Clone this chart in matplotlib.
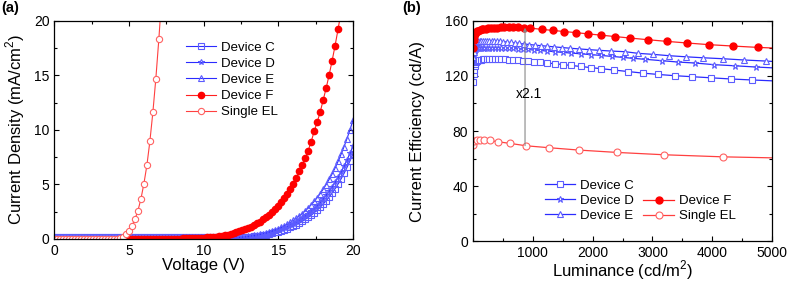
import numpy as np
import matplotlib
matplotlib.use("Agg")
import matplotlib.pyplot as plt
from matplotlib.ticker import MultipleLocator, FixedLocator

plt.rcParams.update({
    "font.family": ["Liberation Sans", "DejaVu Sans"],
    "mathtext.fontset": "custom",
    "mathtext.rm": "Liberation Sans",
    "axes.linewidth": 0.9,
    "xtick.direction": "in",
    "ytick.direction": "in",
    "xtick.major.size": 3.5,
    "ytick.major.size": 3.5,
    "xtick.minor.size": 2.0,
    "ytick.minor.size": 2.0,
    "xtick.labelsize": 10,
    "ytick.labelsize": 10,
})

# ── (a) J-V data ─────────────────────────────────────────────
# voltage sweep step 0.2 V
V_blue = np.round(np.arange(0, 20.01, 0.2), 1)
J_C = [0.15] * 63 + [0.16, 0.17, 0.19, 0.21, 0.24, 0.27, 0.31, 0.36,
                     0.41, 0.47, 0.53, 0.60, 0.68, 0.77, 0.86, 0.96, 1.07, 1.19,
                     1.32, 1.46, 1.62, 1.79, 1.98, 2.18, 2.40, 2.64, 2.90, 3.19,
                     3.50, 3.84, 4.20, 4.60, 5.03, 5.50, 6.00, 6.55, 7.15, 7.80]
J_D = [0.15] * 63 + [0.17, 0.19, 0.21, 0.24, 0.27, 0.31, 0.36, 0.41,
                     0.47, 0.54, 0.61, 0.69, 0.78, 0.88, 0.99, 1.11, 1.24, 1.38,
                     1.54, 1.71, 1.89, 2.09, 2.31, 2.54, 2.79, 3.06, 3.35, 3.67,
                     4.01, 4.38, 4.78, 5.20, 5.65, 6.15, 6.68, 7.25, 7.85, 8.50]
J_E = [0.15] * 63 + [0.20, 0.22, 0.25, 0.29, 0.33, 0.38, 0.44, 0.50,
                     0.57, 0.65, 0.74, 0.84, 0.95, 1.07, 1.21, 1.36, 1.52, 1.70,
                     1.89, 2.10, 2.33, 2.57, 2.84, 3.13, 3.44, 3.78, 4.15, 4.55,
                     4.98, 5.45, 5.95, 6.50, 7.10, 7.75, 8.45, 9.20, 10.0, 10.9]

V_F = np.round(np.arange(4.6, 19.21, 0.2), 1)
J_F = [0.03] * 18 + [0.04, 0.045, 0.05, 0.06, 0.065, 0.075, 0.085, 0.095, 0.11,
                     0.12, 0.14, 0.16, 0.19, 0.22, 0.26, 0.30, 0.35, 0.40, 0.46,
                     0.53, 0.60, 0.69, 0.78, 0.88, 1.00, 1.13, 1.27, 1.43, 1.60,
                     1.79, 2.00, 2.23, 2.48, 2.75, 3.05, 3.40, 3.75, 4.10, 4.60,
                     5.00, 5.60, 6.20, 6.80, 7.40, 8.10, 8.90, 9.86, 10.7, 11.6,
                     12.7, 13.8, 15.0, 16.3, 17.7, 19.2, 20.8]

V_EL = np.round(np.arange(0, 7.21, 0.2), 1)
J_EL = [0.02] * 21 + [0.04, 0.09, 0.20, 0.43, 0.76, 1.22, 1.80, 2.60, 3.66,
                      5.07, 6.75, 8.95, 11.6, 14.7, 18.3, 22.3]

# ── (b) CE-L data ────────────────────────────────────────────
L_C = [5, 10, 17, 26, 37, 50, 66, 85, 107, 132, 160, 192, 228, 268, 312, 360,
       412, 470, 532, 600, 672, 750, 834, 924, 1020, 1125, 1240, 1365, 1500,
       1645, 1800, 1965, 2140, 2360, 2596, 2837, 3097, 3376, 3654, 3971, 4322,
       4672, 5100]
CE_C = [115.5, 121.0, 124.5, 127.0, 128.8, 130.0, 130.8, 131.3, 131.6, 131.8,
        132.0, 132.1, 132.2, 132.2, 132.2, 132.2, 132.1, 132.0, 131.9, 131.7,
        131.5, 131.2, 130.9, 130.5, 130.2, 129.8, 129.3, 128.8, 128.2, 127.5,
        126.8, 126.0, 125.2, 124.2, 123.1, 122.0, 121.0, 120.1, 119.4, 118.6,
        117.7, 117.0, 116.2]

L_D = [5, 10, 17, 26, 37, 50, 66, 85, 107, 132, 160, 192, 228, 268, 312, 360,
       412, 470, 532, 600, 672, 750, 834, 924, 1020, 1125, 1240, 1365, 1500,
       1645, 1800, 1965, 2140, 2320, 2503, 2670, 2875, 3154, 3431, 3709, 4031,
       4377, 4727, 5100]
CE_D = [133.0, 135.5, 137.5, 138.6, 139.3, 139.8, 140.1, 140.3, 140.4, 140.5,
        140.5, 140.5, 140.5, 140.5, 140.5, 140.5, 140.5, 140.4, 140.3, 140.1,
        139.9, 139.7, 139.4, 139.1, 138.8, 138.4, 138.0, 137.5, 137.0, 136.5,
        136.0, 135.4, 134.8, 134.1, 133.4, 132.7, 132.0, 131.0, 130.0, 129.3,
        128.1, 127.3, 126.4, 125.6]

L_E = [5, 10, 18, 28, 40, 55, 72, 92, 115, 140, 168, 200, 235, 272, 312, 355,
       400, 450, 505, 565, 630, 700, 775, 855, 940, 1030, 1130, 1240, 1360,
       1490, 1630, 1780, 1940, 2110, 2300, 2541, 2764, 3003, 3281, 3560, 3848,
       4182, 4527, 4906, 5150]
CE_E = [134.0, 137.0, 140.0, 142.0, 143.3, 144.1, 144.6, 145.0, 145.2, 145.4,
        145.5, 145.5, 145.5, 145.5, 145.4, 145.3, 145.2, 145.0, 144.8, 144.5,
        144.2, 143.9, 143.5, 143.1, 142.7, 142.3, 141.9, 141.5, 141.0, 140.5,
        140.0, 139.5, 139.0, 138.5, 138.0, 137.5, 136.3, 135.6, 134.6, 133.8,
        133.1, 132.4, 131.5, 130.7, 130.1]

L_F = [5, 12, 22, 35, 50, 68, 90, 115, 143, 175, 210, 250, 295, 345, 400, 460,
       525, 595, 670, 750, 850, 956, 1150, 1340, 1530, 1725, 1925, 2140, 2370,
       2625, 2920, 3237, 3581, 3948, 4345, 4771, 5230]
CE_F = [140.0, 146.0, 149.0, 150.5, 151.5, 152.2, 152.8, 153.3, 153.7, 154.0,
        154.3, 154.5, 154.7, 154.9, 155.0, 155.1, 155.2, 155.3, 155.3, 155.2,
        155.0, 154.6, 153.7, 152.9, 152.1, 151.3, 150.4, 149.5, 148.5, 147.4,
        146.2, 145.0, 143.8, 142.6, 141.6, 140.6, 139.8]

L_EL = [3, 25, 67, 122, 189, 277, 417, 611, 889, 1273, 1769, 2403, 3192, 4172, 5300]
CE_EL = [69.8, 72.5, 73.2, 73.6, 73.7, 73.2, 72.2, 71.1, 69.3, 67.9, 66.2,
         64.5, 62.8, 61.3, 60.3]

ARROW_L = 870
RATIO_TXT = "x2.1"

BLUE_LINE, BLUE_MK = "#2b2bff", "#5c5cff"
RED_LINE, RED_MK = "#ff2020", "#ff0000"
EL_LINE, EL_MK = "#ff4040", "#ff6262"

fig = plt.figure(figsize=(7.87, 2.83), dpi=100)
ax_a = fig.add_axes([0.069, 0.1555, 0.3795, 0.7715])
ax_b = fig.add_axes([0.601, 0.147, 0.380, 0.780])

# ── (a) ──────────────────────────────────────────────────────
ms_a = 4
kw_blue = dict(color=BLUE_LINE, lw=0.8, mfc="none", mec=BLUE_MK, mew=0.8, ms=ms_a)
ax_a.plot(V_blue, J_C, marker="s", label="Device C", **kw_blue)
ax_a.plot(V_blue, J_D, marker="*", label="Device D", **kw_blue)
ax_a.plot(V_blue, J_E, marker="^", label="Device E", **kw_blue)
ax_a.plot(V_F, J_F, marker="o", color=RED_LINE, lw=0.8, mfc=RED_MK, mec=RED_MK,
          ms=ms_a + 0.5, label="Device F")
ax_a.plot(V_EL, J_EL, marker="o", color=EL_LINE, lw=0.8, mfc="white", mec=EL_MK,
          mew=0.8, ms=ms_a + 0.5, label="Single EL")

ax_a.set_xlim(0, 20)
ax_a.set_ylim(0, 20)
ax_a.xaxis.set_major_locator(MultipleLocator(5))
ax_a.xaxis.set_minor_locator(MultipleLocator(2.5))
ax_a.yaxis.set_major_locator(MultipleLocator(5))
ax_a.yaxis.set_minor_locator(MultipleLocator(2.5))
ax_a.set_xlabel("Voltage (V)", fontsize=12, labelpad=0)
ax_a.set_ylabel("Current Density (mA/cm$^{\\mathregular{2}}$)", fontsize=12, labelpad=5)
ax_a.legend(loc="upper left", bbox_to_anchor=(0.44, 0.905), frameon=False,
            fontsize=9.5, borderpad=0, borderaxespad=0, labelspacing=0.3,
            handlelength=2.3, handletextpad=0.4, markerscale=1.0)

# ── (b) ──────────────────────────────────────────────────────
ms_b = 4.5
kw_blue_b = dict(color=BLUE_LINE, lw=0.9, mfc="white", mec=BLUE_MK, mew=0.8, ms=ms_b)
lC, = ax_b.plot(L_C, CE_C, marker="s", label="Device C", **kw_blue_b)
lD, = ax_b.plot(L_D, CE_D, marker="*", label="Device D", **kw_blue_b)
lE, = ax_b.plot(L_E, CE_E, marker="^", label="Device E", **kw_blue_b)
lF, = ax_b.plot(L_F, CE_F, marker="o", color=RED_LINE, lw=0.9, mfc=RED_MK,
                mec=RED_MK, ms=ms_b + 0.5, label="Device F")
lEL, = ax_b.plot(L_EL, CE_EL, marker="o", color=EL_LINE, lw=0.9, mfc="white",
                 mec=EL_MK, mew=0.8, ms=ms_b + 0.5, label="Single EL")

y_lo = np.interp(ARROW_L, L_EL, CE_EL)
y_hi = np.interp(ARROW_L, L_F, CE_F)
ax_b.annotate("", xy=(ARROW_L, y_hi), xytext=(ARROW_L, y_lo),
              arrowprops=dict(arrowstyle="-|>", color="#888888", lw=0.8,
                              mutation_scale=5, shrinkA=0, shrinkB=0))
ax_b.text(ARROW_L + 60, (y_lo + y_hi) / 2 - 5, RATIO_TXT, fontsize=10,
          ha="center", va="center")

ax_b.set_xlim(0, 5000)
ax_b.set_ylim(0, 160)
ax_b.xaxis.set_major_locator(FixedLocator([1000, 2000, 3000, 4000, 5000]))
ax_b.xaxis.set_minor_locator(MultipleLocator(500))
ax_b.yaxis.set_major_locator(MultipleLocator(40))
ax_b.yaxis.set_minor_locator(MultipleLocator(20))
ax_b.set_xlabel("Luminance (cd/m$^{\\mathregular{2}}$)", fontsize=12, labelpad=-1)
ax_b.set_ylabel("Current Efficiency (cd/A)", fontsize=12, labelpad=14)

leg1 = ax_b.legend(handles=[lC, lD, lE], loc="upper left", bbox_to_anchor=(0.24, 0.28),
                   frameon=False, fontsize=9.5, borderpad=0, borderaxespad=0,
                   labelspacing=0.22, handlelength=2.3, handletextpad=0.4)
ax_b.add_artist(leg1)
ax_b.legend(handles=[lF, lEL], loc="upper left", bbox_to_anchor=(0.57, 0.21),
            frameon=False, fontsize=9.5, borderpad=0, borderaxespad=0,
            labelspacing=0.22, handlelength=2.3, handletextpad=0.4)

for ax in (ax_a, ax_b):
    ax.tick_params(which="both", top=True, right=True, width=0.8)

fig.text(0.002, 0.995, "(a)", fontsize=10.5, fontweight="bold", va="top", ha="left")
fig.text(0.511, 0.995, "(b)", fontsize=10.5, fontweight="bold", va="top", ha="left")

fig.savefig("out.png", dpi=100)
